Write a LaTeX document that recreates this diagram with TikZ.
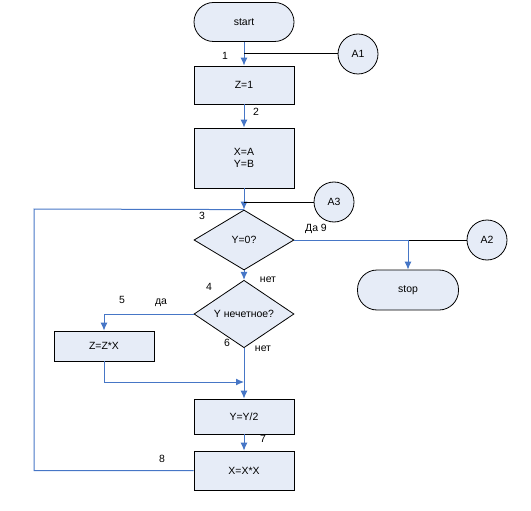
\documentclass[tikz,border=0pt]{standalone}
\usepackage{fontspec}
\setmainfont{Liberation Sans}
\usetikzlibrary{positioning,shapes.geometric,arrows.meta}
\definecolor{boxfill}{RGB}{230,236,247}
\definecolor{flowblue}{RGB}{70,118,198}

\begin{document}
\begin{tikzpicture}[x=1bp,y=-1bp,
    every node/.style={font=\fontsize{10.5}{12.5}\selectfont,inner sep=0pt},
    term/.style={draw,fill=boxfill,line width=0.8bp,rounded corners=19.5bp,
        minimum width=100bp,minimum height=39bp},
    proc/.style={draw,fill=boxfill,line width=0.8bp,minimum width=100bp},
    cond/.style={draw,fill=boxfill,line width=0.8bp,diamond,
        minimum width=100bp,minimum height=60bp},
    conn/.style={draw,fill=boxfill,line width=0.8bp,circle,minimum size=40bp},
    flow/.style={flowblue,line width=1bp,-{Latex[length=8bp,width=7bp]}},
    link/.style={black,line width=1bp}
    ]

    \useasboundingbox (0,0) rectangle (531,511);

    %blocks of the flowchart
    \node[term] (start) at (244,22) {start};
    \node[proc,minimum height=38bp] (z1) at (244,85) {Z=1};
    \node[proc,minimum height=60bp,align=center] (xy) at (244,158) {X=A\\Y=B};
    \node[cond] (y0) at (244,240) {Y=0?};
    \node[term,minimum width=101bp,minimum height=40bp] (stop) at (408,290) {stop};
    \node[cond] (odd) at (244,314) {Y нечетное?};
    \node[proc,minimum height=30bp] (zzx) at (104,346) {Z=Z*X};
    \node[proc,minimum height=35bp] (yy2) at (244,416.5) {Y=Y/2};
    \node[proc,minimum height=39bp] (xxx) at (244,470.5) {X=X*X};

    %off-page connectors
    \node[conn] (a1) at (358,54) {A1};
    \node[conn] (a3) at (334,202) {A3};
    \node[conn] (a2) at (487,240) {A2};

    %junction points
    \coordinate (j1) at (244,54);
    \coordinate (j3) at (244,202);
    \coordinate (j2) at (408,240);
    \coordinate (jm) at (244,382);
    \coordinate (lp) at (34,209);

    %arrows between blocks
    \draw[flow] (start) -- (z1);
    \draw[link] (j1) -- (a1);
    \draw[flow] (z1) -- (xy);
    \draw[flow] (xy) -- (y0);
    \draw[link] (j3) -- (a3);
    \draw[flowblue,line width=1bp] (y0.east) -- (j2);
    \draw[link] (j2) -- (a2);
    \draw[flow] (j2) -- (stop);
    \draw[flow] (y0) -- (odd);
    \draw[flow] (odd.west) -| (zzx);
    \draw[flow] (zzx.south) |- (jm);
    \draw[flow] (odd) -- (yy2);
    \draw[flow] (yy2) -- (xxx);
    \draw[flowblue,line width=1bp] (xxx.west) -| (lp) -- (y0.north);

    %numbers and answers
    \node (l1) at (225,56) {1};
    \node (l2) at (256,112) {2};
    \node (l3) at (202,216) {3};
    \node (l9) at (316,229) {Да 9};
    \node (no1) at (268,280) {нет};
    \node (l4) at (209,287) {4};
    \node (l5) at (122,300) {5};
    \node (da) at (161,303) {да};
    \node (l6) at (227,343) {6};
    \node (no2) at (263,349) {нет};
    \node (l7) at (263,439) {7};
    \node (l8) at (162,459) {8};
\end{tikzpicture}
\end{document}
